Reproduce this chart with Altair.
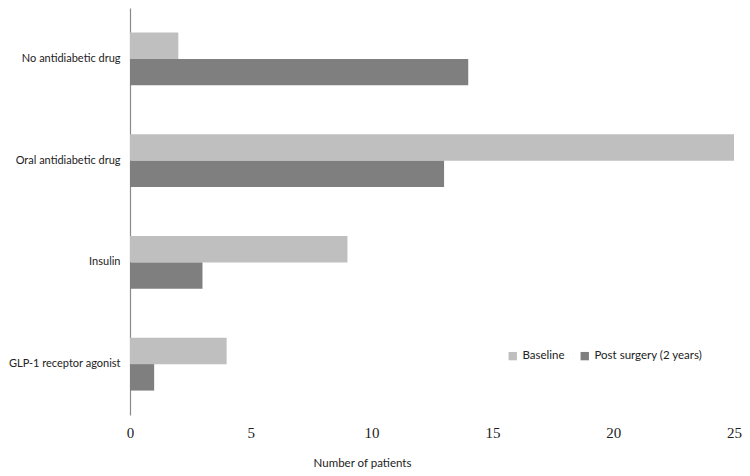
import altair as alt
import pandas as pd

categories = ["No antidiabetic drug", "Oral antidiabetic drug", "Insulin", "GLP-1 receptor agonist"]
series = ["Baseline", "Post surgery (2 years)"]
baseline = [2, 25, 9, 4]
post_surgery = [14, 13, 3, 1]
x_ticks = [0, 5, 10, 15, 20, 25]

rows = []
for c, b, p in zip(categories, baseline, post_surgery):
    rows.append({"cat": c, "series": series[0], "value": b})
    rows.append({"cat": c, "series": series[1], "value": p})
df = pd.DataFrame(rows)

chart = alt.Chart(df).mark_bar().encode(
    y=alt.Y("cat:N", sort=categories,
            scale=alt.Scale(paddingInner=0.48, paddingOuter=0.24),
            axis=alt.Axis(title=None, ticks=False, domainColor="#8a8a8a", domainWidth=1.2,
                          labelFont="Lato", labelFontSize=11, labelColor="#222",
                          labelPadding=10, grid=False)),
    yOffset=alt.YOffset("series:N", sort=series),
    x=alt.X("value:Q", scale=alt.Scale(domain=[0, 25], nice=False),
            axis=alt.Axis(title="Number of  patients", values=x_ticks, ticks=False, domain=False,
                          grid=False, labelFont="Liberation Serif", labelFontSize=15,
                          labelColor="#222", labelPadding=10, labelFlush=False,
                          titleFont="Lato", titleFontSize=11.5, titleFontWeight="normal",
                          titleColor="#222", titlePadding=17, titleX=232, titleAnchor="middle")),
    color=alt.Color("series:N", sort=series,
                    scale=alt.Scale(domain=series, range=["#bfbfbf", "#7f7f7f"]),
                    legend=alt.Legend(title=None, orient="none", legendX=377, legendY=342,
                                      direction="horizontal", symbolType="square",
                                      symbolSize=70, labelFont="Lato", labelFontSize=11.5,
                                      labelColor="#222", columnPadding=14, symbolStrokeWidth=0)),
).properties(
    width=604, height=407,
    padding={"left": 0, "top": 0, "right": 0, "bottom": 0},
).configure_view(stroke=None)

chart.save("out.html", embed_options={"renderer": "svg", "actions": False})
